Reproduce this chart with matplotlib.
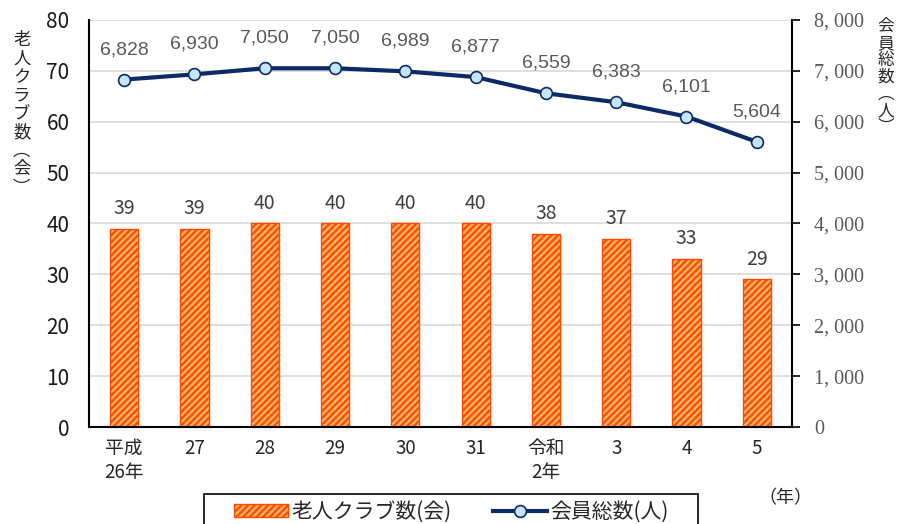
import matplotlib
matplotlib.use("Agg")
import matplotlib.pyplot as plt
from matplotlib.patches import Rectangle
import numpy as np

plt.rcParams['font.family'] = ['Noto Sans CJK JP', 'DejaVu Sans']
plt.rcParams['hatch.color'] = '#FF5A10'
plt.rcParams['hatch.linewidth'] = 1.6

# data
years = ['平成\n26年', '27', '28', '29', '30', '31', '令和\n2年', '3', '4', '5']
clubs = [39, 39, 40, 40, 40, 40, 38, 37, 33, 29]
members = [6828, 6930, 7050, 7050, 6989, 6877, 6559, 6383, 6101, 5604]

x = np.arange(len(years))

fig = plt.figure(figsize=(9.03, 5.24), dpi=100)
ax = fig.add_axes([0.0986, 0.185, 0.7784, 0.777])
ax2 = ax.twinx()

bars = ax.bar(x, clubs, width=0.4, color='#FFB366', edgecolor='#FF4A00',
              hatch='/////', linewidth=1.0, label='老人クラブ数(会)', zorder=2)
for xi, v in zip(x, clubs):
    ax.text(xi, v + 1.9, str(v), ha='center', va='bottom', fontsize=14,
            color='#404040')

ax.set_xlim(-0.5, len(years) - 0.5)
ax.set_ylim(0, 80)
ax.set_yticks(range(0, 81, 10))
ax.yaxis.grid(True, color='#D9D9D9', linewidth=1.2, zorder=0)
ax.set_axisbelow(True)
ax.tick_params(axis='y', length=0, pad=14, labelsize=15, labelcolor='#1a1a1a')
ax.set_xticks(x)
ax.set_xticklabels(years, fontsize=13.5, color='#262626', linespacing=1.15)
ax.tick_params(axis='x', length=0, pad=8)
ax.spines['top'].set_visible(False)
ax.spines['right'].set_visible(False)
ax.spines['left'].set_linewidth(1.5)
ax.spines['bottom'].set_linewidth(1.5)

line, = ax2.plot(x, members, color='#0D2A64', linewidth=3, marker='o',
                 markersize=8.5, markerfacecolor='#C5E6F8',
                 markeredgecolor='#0D2A64', markeredgewidth=1.2,
                 label='会員総数(人)', zorder=3)
for xi, v in zip(x, members):
    ax2.text(xi, v + 420, f'{v:,}', ha='center', va='bottom', fontsize=14,
             color='#595959', family=['Liberation Sans', 'DejaVu Sans'])

ax2.set_ylim(0, 8000)
ax2.set_yticks(range(0, 8001, 1000))
ax2.set_yticklabels(['0' if t == 0 else f'{t // 1000}, {t % 1000:03d}'
                     for t in range(0, 8001, 1000)])
ax2.tick_params(axis='y', direction='out', length=6, width=1.2, pad=10,
                labelsize=14.5, labelcolor='#595959')
for lab in ax2.get_yticklabels():
    lab.set_family(['Liberation Serif', 'DejaVu Serif'])
for s in ['top', 'left', 'bottom']:
    ax2.spines[s].set_visible(False)
ax2.spines['right'].set_linewidth(1.5)

# vertical axis titles
fig.text(0.024, 0.94, '老\n人\nク\nラ\nブ\n数\n︵\n会\n︶', ha='center', va='top',
         fontsize=12.5, linespacing=1.03, color='#262626')
fig.text(0.981, 0.965, '会\n員\n総\n数\n︵\n人\n︶', ha='center', va='top',
         fontsize=12, linespacing=0.98, color='#262626')
fig.text(0.84, 0.05, '（年）', ha='left', va='center', fontsize=13, color='#262626')

# legend, with a wider box drawn behind it (box runs off the bottom edge)
leg = fig.legend(handles=[bars, line], loc='upper center',
                 bbox_to_anchor=(0.500, 0.052), ncol=2, fontsize=15,
                 frameon=False, handlelength=2.6, handleheight=0.6,
                 handletextpad=0.15, columnspacing=2.0, borderpad=0.2,
                 borderaxespad=0)
for t in leg.get_texts():
    t.set_color('#262626')
fig.patches.append(Rectangle((204 / 903, -0.05), 494 / 903, 0.107,
                             transform=fig.transFigure, fill=False,
                             edgecolor='black', linewidth=1.2))

fig.savefig('out.png', dpi=100)
